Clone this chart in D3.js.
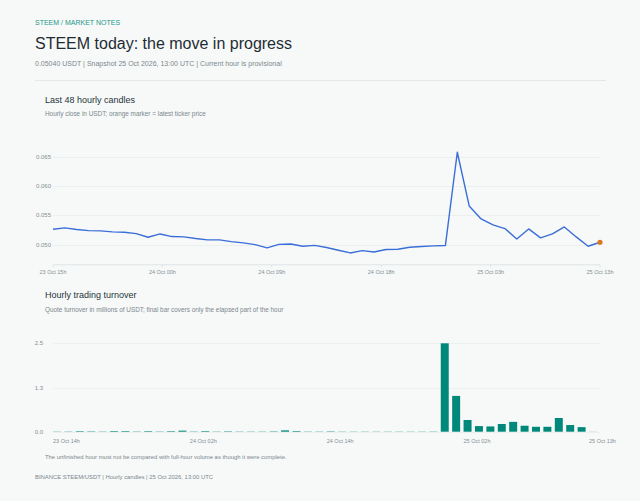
<!DOCTYPE html>
<html>
<head>
<meta charset="utf-8">
<script src="https://cdn.jsdelivr.net/npm/d3@7/dist/d3.min.js"></script>
<style>
  html, body { margin: 0; padding: 0; background: #f7f9f8; }
  svg { display: block; font-family: "Liberation Sans", Arial, Helvetica, sans-serif; }
</style>
</head>
<body>
<svg id="chart" width="640" height="501"></svg>
<script>
// ---------- DATA ----------
const kicker = "STEEM / MARKET NOTES";
const title = "STEEM today: the move in progress";
const subtitle = "0.05040 USDT | Snapshot 25 Oct 2026, 13:00 UTC | Current hour is provisional";
const lineTitle = "Last 48 hourly candles";
const lineSubtitle = "Hourly close in USDT; orange marker = latest ticker price";
const barTitle = "Hourly trading turnover";
const barSubtitle = "Quote turnover in millions of USDT; final bar covers only the elapsed part of the hour";
const note = "The unfinished hour must not be compared with full-hour volume as though it were complete.";
const footer = "BINANCE STEEM/USDT | Hourly candles | 25 Oct 2026, 13:00 UTC";

// hourly closes (USDT), 23 Oct 15h .. 25 Oct 13h
const closes = [
  0.05262, 0.05285, 0.05257, 0.05239, 0.05234, 0.05217, 0.05211, 0.05188, 0.05125, 0.05182,
  0.05137, 0.05131, 0.05103, 0.05080, 0.05080, 0.05051, 0.05029, 0.05000, 0.04943, 0.05003,
  0.05011, 0.04971, 0.04987, 0.04950, 0.04903, 0.04857, 0.04896, 0.04874, 0.04916, 0.04920,
  0.04954, 0.04966, 0.04977, 0.04985, 0.06579, 0.05661, 0.05439, 0.05336, 0.05274, 0.05097,
  0.05268, 0.05114, 0.05182, 0.05302, 0.05131, 0.04971, 0.05040
];
const lastPrice = 0.05040;
const lineTickLabels = ["23 Oct 15h", "24 Oct 00h", "24 Oct 09h", "24 Oct 18h", "25 Oct 03h", "25 Oct 13h"];

// hourly candle open times 23 Oct 14h .. 25 Oct 13h
const hours = [
  "23 Oct 14h","23 Oct 15h","23 Oct 16h","23 Oct 17h","23 Oct 18h","23 Oct 19h","23 Oct 20h","23 Oct 21h","23 Oct 22h","23 Oct 23h",
  "24 Oct 00h","24 Oct 01h","24 Oct 02h","24 Oct 03h","24 Oct 04h","24 Oct 05h","24 Oct 06h","24 Oct 07h","24 Oct 08h","24 Oct 09h",
  "24 Oct 10h","24 Oct 11h","24 Oct 12h","24 Oct 13h","24 Oct 14h","24 Oct 15h","24 Oct 16h","24 Oct 17h","24 Oct 18h","24 Oct 19h",
  "24 Oct 20h","24 Oct 21h","24 Oct 22h","24 Oct 23h","25 Oct 00h","25 Oct 01h","25 Oct 02h","25 Oct 03h","25 Oct 04h","25 Oct 05h",
  "25 Oct 06h","25 Oct 07h","25 Oct 08h","25 Oct 09h","25 Oct 10h","25 Oct 11h","25 Oct 12h","25 Oct 13h"
];
// quote turnover, millions of USDT
const turnover = [
  0.006, 0.007, 0.016, 0.011, 0.007, 0.018, 0.018, 0.008, 0.017, 0.008,
  0.016, 0.030, 0.008, 0.018, 0.007, 0.012, 0.007, 0.007, 0.007, 0.011,
  0.038, 0.018, 0.007, 0.007, 0.011, 0.006, 0.006, 0.006, 0.006, 0.006,
  0.006, 0.006, 0.006, 0.007, 2.52, 1.02, 0.333, 0.16, 0.15, 0.22,
  0.28, 0.17, 0.14, 0.14, 0.39, 0.19, 0.13, 0.003
];
const barTickLabels = ["23 Oct 14h", "24 Oct 02h", "24 Oct 14h", "25 Oct 02h", "25 Oct 13h"];

// ---------- STYLE ----------
const C = {
  kicker: "#23978a", title: "#1f2c34", head: "#26333b", sub: "#7b878e",
  tick: "#838e95", grid: "#eceff0", axis: "#dfe4e6", rule: "#e4e8ea",
  line: "#3a6ed8", marker: "#d7781f", bar: "#00897b"
};

const svg = d3.select("#chart");
function txt(x, y, s, size, color, weight) {
  return svg.append("text").attr("x", x).attr("y", y).attr("font-size", size)
    .attr("fill", color).attr("font-weight", weight || "normal").text(s);
}

txt(35, 25, kicker, 7, C.kicker);
txt(35, 49, title, 16, C.title);
txt(35, 66, subtitle, 7, C.sub);
svg.append("line").attr("x1", 35).attr("x2", 606).attr("y1", 80.5).attr("y2", 80.5)
  .attr("stroke", C.rule).attr("stroke-width", 1);

// ---------- LINE CHART ----------
txt(45, 102.5, lineTitle, 9, C.head);
txt(45, 116, lineSubtitle, 6.4, C.sub);

const L = { left: 53, right: 600, top: 146.5, bottom: 264.3 };
const xL = d3.scaleLinear().domain([0, closes.length - 1]).range([L.left, L.right]);
const yL = d3.scaleLinear()
  .domain([d3.min(closes) * 0.96, d3.max(closes) * 1.015])
  .range([L.bottom, L.top]);

const gL = svg.append("g");
const yTicksL = yL.ticks(4);
gL.selectAll(".gridL").data(yTicksL).join("line")
  .attr("x1", L.left).attr("x2", L.right)
  .attr("y1", d => Math.round(yL(d)) + 0.5).attr("y2", d => Math.round(yL(d)) + 0.5)
  .attr("stroke", C.grid);
gL.selectAll(".ytL").data(yTicksL).join("text")
  .attr("x", L.left - 2).attr("y", d => yL(d)).attr("dy", "0.34em")
  .attr("text-anchor", "end").attr("font-size", 6).attr("fill", C.tick)
  .text(d3.format(".3f"));
gL.append("line").attr("x1", L.left).attr("x2", L.right)
  .attr("y1", L.bottom + 0.5).attr("y2", L.bottom + 0.5).attr("stroke", C.axis);

const nT = lineTickLabels.length;
const tickPos = lineTickLabels.map((_, i) => i * (closes.length - 1) / (nT - 1));
gL.selectAll(".xtk").data(tickPos).join("line")
  .attr("x1", d => xL(d)).attr("x2", d => xL(d))
  .attr("y1", L.bottom + 0.5).attr("y2", L.bottom + 3)
  .attr("stroke", C.axis);
gL.selectAll(".xtL").data(tickPos).join("text")
  .attr("x", d => xL(d)).attr("y", 273.5)
  .attr("text-anchor", "middle").attr("font-size", 5.5).attr("fill", C.tick)
  .text((d, i) => lineTickLabels[i]);

gL.append("path").datum(closes)
  .attr("d", d3.line().x((d, i) => xL(i)).y(d => yL(d)))
  .attr("fill", "none").attr("stroke", C.line).attr("stroke-width", 1.4)
  .attr("stroke-linejoin", "round");
gL.append("circle").attr("cx", xL(closes.length - 1)).attr("cy", yL(lastPrice))
  .attr("r", 2.6).attr("fill", C.marker);

// ---------- BAR CHART ----------
txt(45, 298, barTitle, 9, C.head);
txt(45, 312.3, barSubtitle, 6.4, C.sub);

const B = { left: 53, right: 600, top: 343.3, bottom: 431.7 };
const xB = d3.scaleBand().domain(hours).range([B.left, 597]).paddingInner(0.3).paddingOuter(0);
const maxT = d3.max(turnover);
const yB = d3.scaleLinear().domain([0, maxT]).range([B.bottom, B.top]);
const yTicksB = [0, maxT / 2, maxT];

const gB = svg.append("g");
gB.selectAll(".gridB").data(yTicksB).join("line")
  .attr("x1", B.left).attr("x2", B.right)
  .attr("y1", d => Math.round(yB(d)) + 0.5).attr("y2", d => Math.round(yB(d)) + 0.5)
  .attr("stroke", C.grid);
gB.selectAll(".ytB").data(yTicksB).join("text")
  .attr("x", B.left - 10).attr("y", d => yB(d)).attr("dy", "0.34em")
  .attr("text-anchor", "end").attr("font-size", 6).attr("fill", C.tick)
  .text(d3.format(".1f"));

gB.selectAll(".bar").data(turnover).join("rect")
  .attr("x", (d, i) => xB(hours[i]))
  .attr("width", xB.bandwidth())
  .attr("y", d => yB(d))
  .attr("height", d => B.bottom - yB(d))
  .attr("fill", C.bar);

gB.selectAll(".xtB").data(barTickLabels).join("text")
  .attr("x", d => xB(d)).attr("y", 442.7)
  .attr("text-anchor", "start").attr("font-size", 5.5).attr("fill", C.tick)
  .text(d => d);

txt(45, 459, note, 5.9, C.sub);
txt(35, 478.5, footer, 5.9, C.sub);
</script>
</body>
</html>
